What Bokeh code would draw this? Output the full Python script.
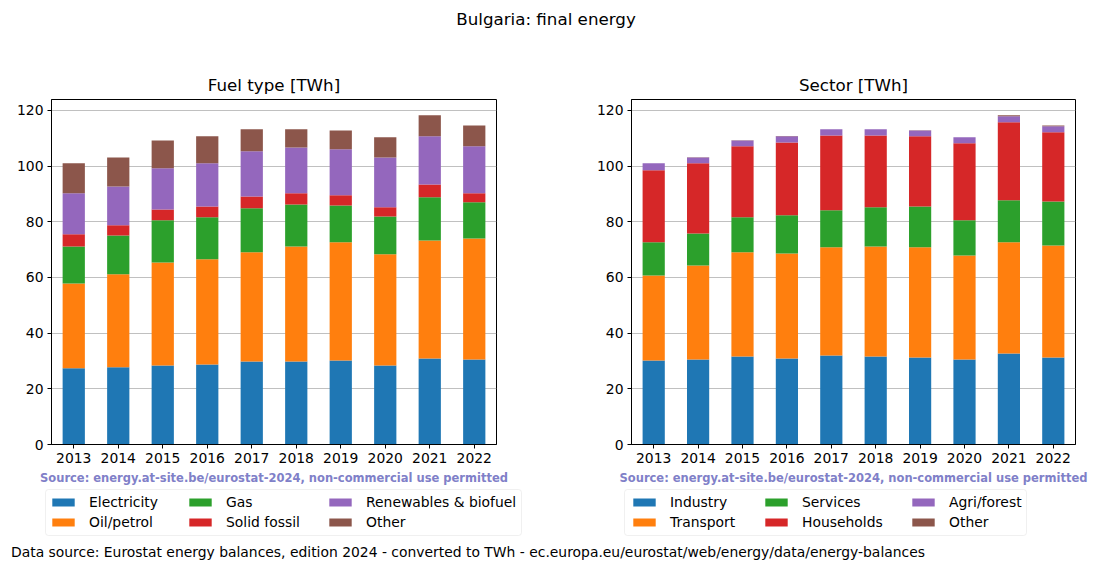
from bokeh.plotting import figure
from bokeh.models import (Range1d, FactorRange, Legend, LegendItem, Div, FixedTicker,
                          ColumnDataSource, BoxAnnotation)
from bokeh.layouts import column, row
from bokeh.embed import file_html
from bokeh.resources import INLINE

years = [str(y) for y in range(2013, 2023)]

# Fuel type [TWh]
electricity = [27.4, 27.7, 28.4, 28.7, 29.8, 29.8, 30.2, 28.4, 30.9, 30.5]
oil_petrol = [30.4, 33.4, 37.0, 37.8, 39.2, 41.3, 42.4, 39.9, 42.4, 43.5]
gas = [13.3, 14.0, 15.1, 15.1, 15.8, 15.1, 13.2, 13.6, 15.5, 13.0]
solid_fossil = [4.4, 3.6, 3.9, 3.9, 4.3, 4.0, 3.7, 3.3, 4.6, 3.2]
renewables = [14.7, 14.0, 14.8, 15.5, 16.2, 16.5, 16.5, 17.9, 17.3, 16.9]
other_fuel = [10.8, 10.4, 10.0, 9.7, 7.9, 6.5, 6.8, 7.2, 7.5, 7.5]
fuel_labels = ["Electricity", "Oil/petrol", "Gas", "Solid fossil", "Renewables & biofuel", "Other"]

# Sector [TWh]
industry = [30.2, 30.5, 31.6, 30.9, 32.0, 31.6, 31.2, 30.5, 32.7, 31.2]
transport = [30.5, 33.8, 37.4, 37.7, 38.8, 39.5, 39.6, 37.4, 39.9, 40.3]
services = [11.9, 11.5, 12.6, 13.7, 13.3, 14.1, 14.7, 12.6, 15.1, 15.8]
households = [25.9, 25.2, 25.5, 26.2, 26.9, 25.8, 25.2, 27.7, 28.0, 24.8]
agri_forest = [2.5, 2.1, 2.1, 2.2, 2.2, 2.2, 2.1, 2.1, 2.2, 2.2]
other_sector = [0.05, 0.05, 0.05, 0.05, 0.05, 0.05, 0.05, 0.05, 0.3, 0.3]
sector_labels = ["Industry", "Transport", "Services", "Households", "Agri/forest", "Other"]

y_ticks = [0, 20, 40, 60, 80, 100, 120]
colors = ["#1f77b4", "#ff7f0e", "#2ca02c", "#d62728", "#9467bd", "#8c564b"]
FONT = "DejaVu Sans"
SOURCE = "Source: energy.at-site.be/eurostat-2024, non-commercial use permitted"

fuel_series = [electricity, oil_petrol, gas, solid_fossil, renewables, other_fuel]
sector_series = [industry, transport, services, households, agri_forest, other_sector]


def make_panel(title, series, b_left, b_right, width):
    p = figure(x_range=FactorRange(*years, range_padding=0), y_range=Range1d(0, 123.9),
               width=width, height=448, min_border_left=b_left, min_border_right=b_right,
               min_border_top=59, min_border_bottom=44, output_backend="svg",
               toolbar_location=None, title=title)
    keys = ["s%d" % i for i in range(len(series))]
    data = {"year": years}
    for k, s in zip(keys, series):
        data[k] = s
    src = ColumnDataSource(data)
    p.vbar_stack(keys, x="year", width=0.5, fill_color=colors, line_color=None, source=src)

    p.title.align = "center"
    p.title.text_font = FONT
    p.title.text_font_size = "16.7px"
    p.title.text_font_style = "normal"
    p.title.text_color = "black"
    p.title.standoff = 9

    p.outline_line_color = "black"
    p.outline_line_width = 1
    p.xgrid.visible = False
    p.ygrid.grid_line_color = "#b0b0b0"
    p.ygrid.grid_line_width = 0.8
    p.yaxis.ticker = FixedTicker(ticks=y_ticks)
    for ax in (p.xaxis[0], p.yaxis[0]):
        ax.axis_line_color = "black"
        ax.major_tick_line_color = "black"
        ax.major_tick_out = 4
        ax.major_tick_in = 0
        ax.minor_tick_line_color = None
        ax.major_label_text_font = FONT
        ax.major_label_text_font_size = "13.9px"
        ax.major_label_text_color = "black"
        ax.major_label_standoff = 4
    p.xaxis.axis_label = SOURCE
    p.xaxis.axis_label_text_font = FONT
    p.xaxis.axis_label_text_font_size = "11.5px"
    p.xaxis.axis_label_text_font_style = "bold"
    p.xaxis.axis_label_text_color = "#8080c8"
    p.xaxis.axis_label_standoff = 5
    return p


def make_legend(labels, series, width, box_lr, glyph_xs):
    q = figure(width=width, height=52, x_range=Range1d(0, width), y_range=Range1d(0, 52),
               min_border=0, output_backend="svg", toolbar_location=None)
    q.axis.visible = False
    q.grid.visible = False
    q.outline_line_color = None
    year_nums = [int(y) for y in years]  # lie outside this strip's range: only the legend keys show
    rs = [q.vbar(x=year_nums, top=s, width=0.5, fill_color=c, line_color=None)
          for s, c in zip(series, colors)]
    box = BoxAnnotation(left=box_lr[0], right=box_lr[1], bottom=5, top=51,
                        fill_color="white", fill_alpha=0.8, line_color="#cccccc",
                        line_width=1, border_radius=3)
    q.add_layout(box)
    for j in range(3):
        items = [LegendItem(label=labels[2 * j + k], renderers=[rs[2 * j + k]]) for k in range(2)]
        leg = Legend(items=items, location=(glyph_xs[j], 10), orientation="vertical")
        leg.label_text_font = FONT
        leg.label_text_font_size = "13.9px"
        leg.label_text_color = "black"
        leg.glyph_width = 28
        leg.glyph_height = 10
        leg.label_standoff = 12
        leg.spacing = 4
        leg.padding = 0
        leg.margin = 0
        leg.border_line_color = None
        leg.background_fill_color = None
        q.add_layout(leg, "center")
    return q


p1 = make_panel("Fuel type [TWh]", fuel_series, 51, 54, 550)
p2 = make_panel("Sector [TWh]", sector_series, 81, 17, 542)
l1 = make_legend(fuel_labels, fuel_series, 550, (45, 521), (49, 186, 326))
l2 = make_legend(sector_labels, sector_series, 542, (74, 476), (80, 212, 359))

head = Div(text='<div style="width:1092px;text-align:center;font-family:\'DejaVu Sans\';'
                'font-size:16.7px;line-height:20px;padding-top:9px;color:black;">'
                'Bulgaria: final energy</div>', width=1092, height=40, margin=(0, 0, 0, 0))
foot = Div(text='<div style="font-family:\'DejaVu Sans\';font-size:13.9px;line-height:17px;'
                'padding-top:4px;padding-left:11px;color:black;white-space:nowrap;">'
                'Data source: Eurostat energy balances, edition 2024 - converted to TWh - '
                'ec.europa.eu/eurostat/web/energy/data/energy-balances</div>',
           width=1092, height=24, margin=(0, 0, 0, 0))

layout = column(head, row(p1, p2), row(l1, l2), foot)
open("out.html", "w").write(file_html(layout, INLINE))
